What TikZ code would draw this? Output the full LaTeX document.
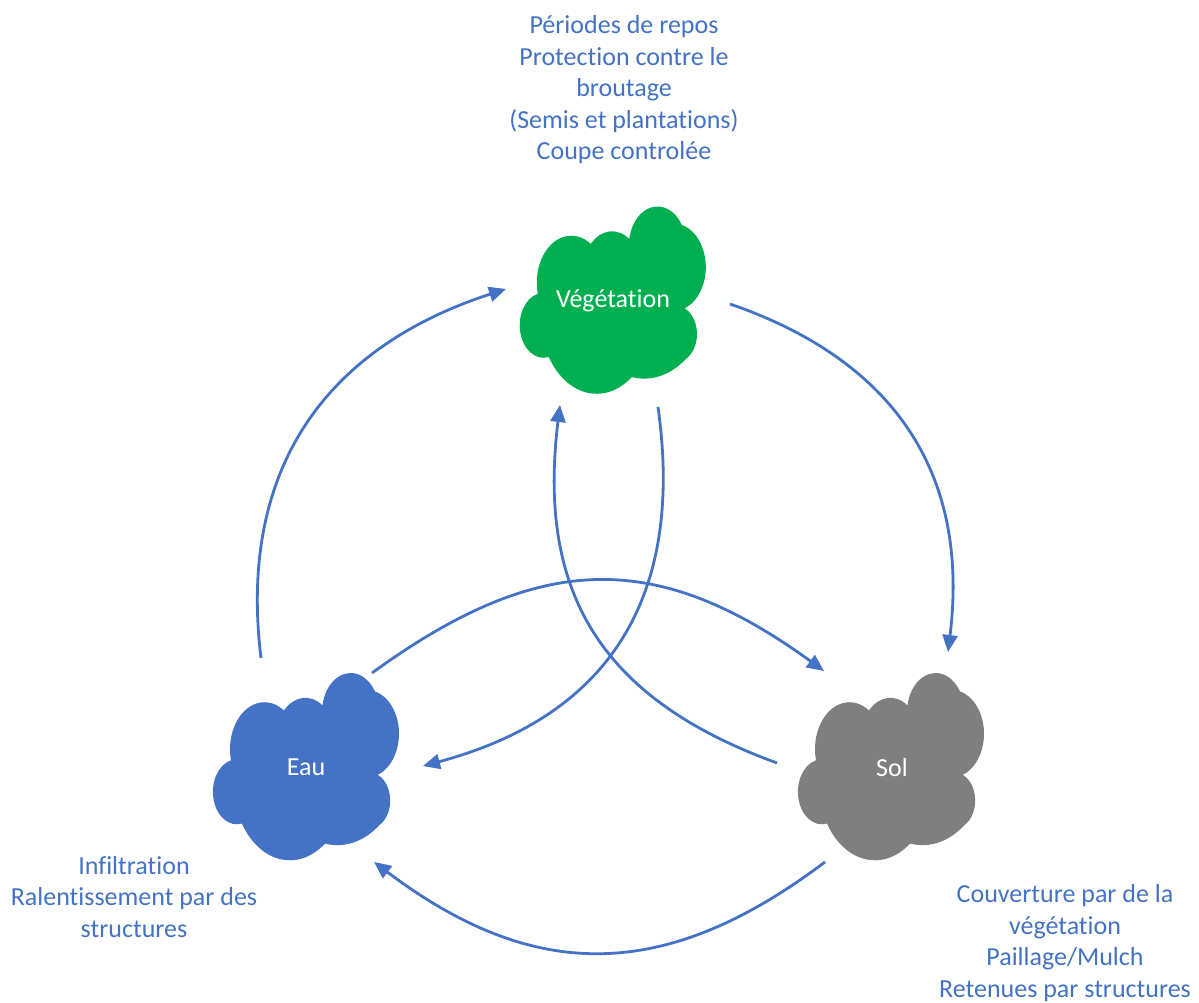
\documentclass[tikz,border=0pt]{standalone}
\usepackage{fontspec}
\setmainfont{Carlito}[Ligatures=NoCommon]
\usetikzlibrary{arrows.meta}

\definecolor{bleu}{HTML}{4472C4}
\definecolor{vert}{HTML}{00B050}
\definecolor{gris}{HTML}{7F7F7F}

% Cloud around a centre: one elliptic arc per lobe, clockwise
\newcommand{\nuage}[2]{%
    \begin{scope}[shift={#1}]
        \fill[#2] (-75.2pt,7.3pt)
            arc[start angle=192.4, end angle=55.5, x radius=34.48pt, y radius=46.9pt]
            arc[start angle=137.2, end angle=53.7, x radius=29.04pt, y radius=39.49pt]
            arc[start angle=170.5, end angle=31.7, x radius=28.58pt, y radius=38.87pt]
            arc[start angle=75.4, end angle=-70.2, x radius=32.1pt, y radius=43.66pt]
            arc[start angle=66.5, end angle=-62.8, x radius=20.64pt, y radius=28.07pt]
            arc[start angle=-51.7, end angle=-100.7, x radius=67.07pt, y radius=91.2pt]
            arc[start angle=-51.3, end angle=-148.8, x radius=56.09pt, y radius=76.28pt]
            arc[start angle=-77.6, end angle=-255.75, x radius=23.88pt, y radius=32.48pt]
            -- cycle;
    \end{scope}}

\begin{document}
\begin{tikzpicture}[x=1pt, y=1pt,
        etiquette/.style={text=white, font=\fontsize{26}{31.5}\selectfont},
        texte/.style={text=bleu, align=center, font=\fontsize{26}{31.5}\selectfont},
        fleche/.style={draw=bleu, line width=2.8pt, -{Triangle[length=17pt, width=15pt]}}]
    \useasboundingbox (0,0) rectangle (1199,1003);

    % Clouds
    \nuage{(612.8,703)}{vert}
    \nuage{(306,236.5)}{bleu}
    \nuage{(891,236.5)}{gris}
    \node[etiquette] (veg) at (613,702) {Végétation};
    \node[etiquette] (eau) at (306,236) {Eau};
    \node[etiquette] (sol) at (892,235) {Sol};

    % Actions
    \node[texte] (vegtxt) at (624,913) {Périodes de repos\\Protection contre le\\broutage\\(Semis et plantations)\\Coupe controlée};
    \node[texte] (eautxt) at (134,106) {Infiltration\\Ralentissement par des\\structures};
    \node[texte] (soltxt) at (1065,60) {Couverture par de la\\végétation\\Paillage/Mulch\\Retenues par structures};

    % Arrow ends
    \coordinate (eauhaut) at (261,345);
    \coordinate (veggauche) at (506,714);
    \coordinate (vegdroite) at (730,699);
    \coordinate (solhaut) at (948,351);
    \coordinate (solbas) at (825,141);
    \coordinate (eaubas) at (374,141);
    \coordinate (eaudroite) at (372,330);
    \coordinate (solgauche) at (824,332);
    \coordinate (solmilieu) at (777,240);
    \coordinate (vegbas) at (560,598);
    \coordinate (vegmilieu) at (658,596);
    \coordinate (eaumilieu) at (423,237);

    % Links
    \draw[fleche] (eauhaut) to[out=97, in=198, looseness=1.1] (veggauche);
    \draw[fleche] (vegdroite) to[out=-19, in=83, looseness=1.1] (solhaut);
    \draw[fleche] (solbas) to[out=217, in=-37, looseness=1.14] (eaubas);
    \draw[fleche] (eaudroite) to[out=36, in=144, looseness=1.17] (solgauche);
    \draw[fleche] (solmilieu) to[out=160, in=-97, looseness=1.15] (vegbas);
    \draw[fleche] (vegmilieu) to[out=-82, in=15, looseness=1.15] (eaumilieu);
\end{tikzpicture}
\end{document}
